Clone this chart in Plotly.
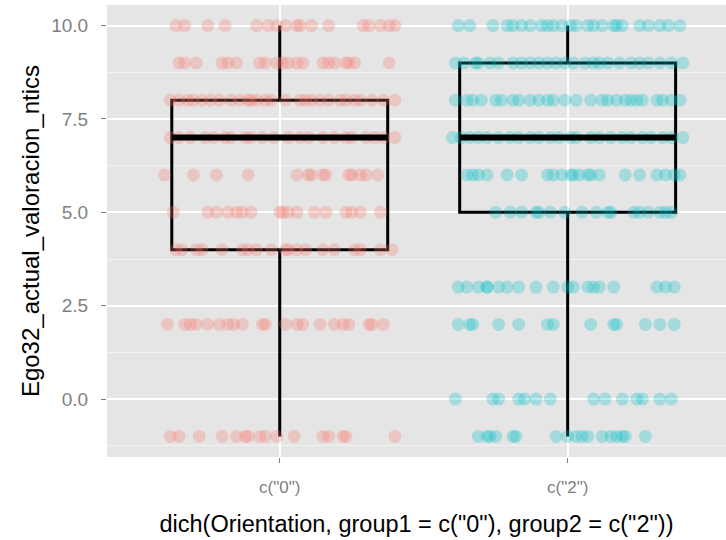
import plotly.graph_objects as go

# ---- data ----
categories = ['c("0")', 'c("2")']
cat_pos = [1, 2]
colors = ["rgba(248,118,109,0.28)", "rgba(0,191,196,0.28)"]

# box statistics per category
q1 = [4, 5]
median = [7, 7]
q3 = [8, 9]
lower = [-1, -1]
upper = [10, 10]

# jitter offsets (horizontal) per y level
g1_levels = {
    10: [-0.36, -0.33, -0.25, -0.19, -0.08, -0.04, -0.01, 0.02, 0.06, 0.07, 0.11, 0.17, 0.29, 0.31, 0.35, 0.38, 0.40],
    9: [-0.35, -0.33, -0.29, -0.20, -0.18, -0.15, -0.07, -0.05, -0.01, 0.01, 0.03, 0.06, 0.08, 0.15, 0.17, 0.19, 0.23, 0.24, 0.26, 0.38],
    8: [-0.38, -0.35, -0.32, -0.30, -0.27, -0.24, -0.21, -0.17, -0.14, -0.11, -0.10, -0.08, -0.05, -0.03, 0.02, 0.07, 0.09, 0.11, 0.14, 0.17, 0.21, 0.23, 0.26, 0.28, 0.32, 0.36, 0.40],
    7: [-0.38, -0.35, -0.31, -0.26, -0.23, -0.19, -0.17, -0.12, -0.10, -0.06, -0.02, 0.03, 0.07, 0.10, 0.15, 0.19, 0.23, 0.25, 0.30, 0.33, 0.36, 0.40],
    6: [-0.40, -0.30, -0.22, -0.11, 0.06, 0.10, 0.11, 0.15, 0.16, 0.24, 0.25, 0.28, 0.30, 0.34],
    5: [-0.37, -0.25, -0.22, -0.18, -0.15, -0.13, -0.10, 0.00, 0.01, 0.03, 0.06, 0.12, 0.16, 0.23, 0.25, 0.28, 0.35],
    4: [-0.36, -0.34, -0.29, -0.27, -0.20, -0.13, -0.11, -0.08, -0.03, 0.02, 0.03, 0.06, 0.09, 0.15, 0.19, 0.26, 0.28, 0.35, 0.39],
    2: [-0.39, -0.33, -0.31, -0.29, -0.25, -0.21, -0.18, -0.16, -0.13, -0.06, -0.05, 0.02, 0.06, 0.08, 0.14, 0.19, 0.22, 0.24, 0.31, 0.32, 0.36],
    -1: [-0.38, -0.35, -0.28, -0.20, -0.15, -0.12, -0.11, -0.07, -0.05, -0.01, 0.05, 0.15, 0.17, 0.22, 0.23, 0.40],
}
g2_levels = {
    10: [-0.38, -0.34, -0.26, -0.21, -0.19, -0.16, -0.13, -0.09, -0.07, -0.05, -0.02, 0.01, 0.03, 0.07, 0.09, 0.12, 0.16, 0.17, 0.19, 0.25, 0.28, 0.32, 0.35, 0.39],
    9: [-0.39, -0.36, -0.32, -0.31, -0.27, -0.24, -0.19, -0.16, -0.13, -0.10, -0.07, -0.04, -0.01, 0.02, 0.06, 0.09, 0.11, 0.14, 0.18, 0.22, 0.25, 0.28, 0.32, 0.36, 0.40],
    8: [-0.39, -0.35, -0.33, -0.30, -0.25, -0.23, -0.19, -0.17, -0.13, -0.10, -0.07, -0.05, -0.01, 0.03, 0.08, 0.12, 0.14, 0.17, 0.20, 0.22, 0.24, 0.26, 0.31, 0.33, 0.36, 0.39],
    7: [-0.40, -0.37, -0.34, -0.31, -0.28, -0.24, -0.20, -0.17, -0.13, -0.10, -0.06, -0.03, 0.01, 0.03, 0.08, 0.11, 0.15, 0.19, 0.22, 0.26, 0.29, 0.33, 0.36, 0.40],
    6: [-0.35, -0.33, -0.31, -0.28, -0.21, -0.16, -0.07, -0.05, -0.02, 0.01, 0.02, 0.04, 0.07, 0.08, 0.11, 0.20, 0.25, 0.31, 0.34, 0.37, 0.39],
    5: [-0.25, -0.20, -0.16, -0.11, -0.10, -0.06, -0.01, 0.05, 0.10, 0.14, 0.15, 0.23, 0.25, 0.28, 0.32, 0.34, 0.36],
    3: [-0.38, -0.35, -0.31, -0.28, -0.28, -0.24, -0.21, -0.17, -0.11, -0.05, 0.00, 0.02, 0.07, 0.09, 0.11, 0.16, 0.31, 0.34, 0.37],
    2: [-0.38, -0.34, -0.33, -0.24, -0.17, -0.07, -0.05, 0.08, 0.16, 0.17, 0.27, 0.32, 0.37],
    0: [-0.39, -0.26, -0.24, -0.17, -0.15, -0.11, -0.06, 0.09, 0.13, 0.19, 0.24, 0.26, 0.32, 0.36],
    -1: [-0.31, -0.28, -0.27, -0.25, -0.19, -0.18, -0.04, 0.00, 0.03, 0.05, 0.07, 0.12, 0.15, 0.17, 0.19, 0.20, 0.27],
}
groups = [g1_levels, g2_levels]

y_tickvals = [0, 2.5, 5, 7.5, 10]
y_minor = [-1.25, 1.25, 3.75, 6.25, 8.75]

x_title = 'dich(Orientation, group1 = c("0"), group2 = c("2"))'
y_title = "Ego32_actual_valoracion_ntics"

BOX_W = 0.75
FONT = "Liberation Sans, Arial, sans-serif"

fig = go.Figure()

# jittered points
for pos, lv, col in zip(cat_pos, groups, colors):
    xs, ys = [], []
    for yv, offs in lv.items():
        for o in offs:
            xs.append(pos + o)
            ys.append(yv)
    fig.add_trace(go.Scatter(x=xs, y=ys, mode="markers",
                             marker=dict(size=13, color=col, line=dict(width=0)),
                             showlegend=False, hoverinfo="skip"))

# boxes
for i, pos in enumerate(cat_pos):
    fig.add_trace(go.Box(x=[pos], q1=[q1[i]], median=[median[i]], q3=[q3[i]],
                         lowerfence=[lower[i]], upperfence=[upper[i]],
                         width=BOX_W, whiskerwidth=0,
                         fillcolor="rgba(0,0,0,0)",
                         line=dict(color="black", width=3),
                         boxpoints=False, showlegend=False))
    # thick median line
    fig.add_trace(go.Scatter(x=[pos - BOX_W / 2, pos + BOX_W / 2], y=[median[i], median[i]],
                             mode="lines", line=dict(color="black", width=6),
                             showlegend=False, hoverinfo="skip"))

fig.update_layout(
    width=726, height=540,
    margin=dict(l=107, r=0, t=5, b=83),
    paper_bgcolor="white",
    plot_bgcolor="#E5E5E5",
    font=dict(family=FONT),
    showlegend=False,
)
fig.update_xaxes(
    range=[0.4, 2.55], tickmode="array", tickvals=cat_pos, ticktext=categories,
    showgrid=True, gridcolor="white", gridwidth=2, zeroline=False,
    ticks="outside", ticklen=5, tickwidth=1, tickcolor="#7F7F7F",
    ticklabelstandoff=10,
    tickfont=dict(size=17, color="#7F7F7F", family=FONT),
    title=dict(text=x_title, font=dict(size=23.5, color="black", family=FONT), standoff=19),
    showline=False,
)
fig.update_yaxes(
    range=[-1.55, 10.55], tickmode="array", tickvals=y_tickvals,
    ticktext=[f"{v:.1f}" for v in y_tickvals],
    showgrid=True, gridcolor="white", gridwidth=2, zeroline=False,
    ticks="outside", ticklen=5, tickwidth=1, tickcolor="#7F7F7F",
    ticklabelstandoff=9,
    tickfont=dict(size=19, color="#7F7F7F", family=FONT),
    minor=dict(tickmode="array", tickvals=y_minor, showgrid=True, gridcolor="#F2F2F2", gridwidth=1, ticks=""),
    title=dict(text=y_title, font=dict(size=24, color="black", family=FONT), standoff=4),
    showline=False,
)

fig.write_html("out.html")
